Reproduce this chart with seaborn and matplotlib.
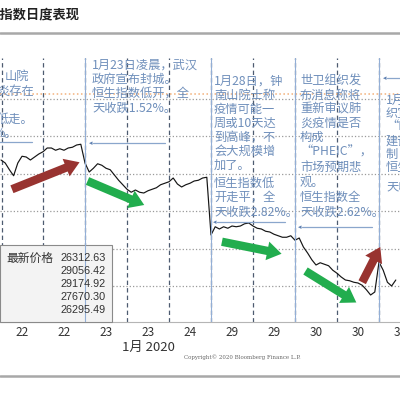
import numpy as np
import pandas as pd
import matplotlib
matplotlib.use("Agg")
import matplotlib.pyplot as plt
from matplotlib.lines import Line2D
from matplotlib.patches import Rectangle
import seaborn as sns

# trading sessions (morning / afternoon) and their labels
session_labels = ["22", "22", "23", "23", "24", "29", "29", "30", "30", "31"]

# intraday prices, ~10 readings per session
s0 = [28180, 28140, 28050, 27970, 28140, 28230, 28220, 28180, 28220, 28260]
s1 = [28290, 28340, 28340, 28310, 28330, 28310, 28340, 28350, 28380, 28390]
s2 = [28140, 28020, 28070, 28130, 28110, 28070, 28050, 27980, 27910, 27850]
s3 = [27790, 27750, 27780, 27750, 27740, 27770, 27790, 27810, 27850, 27870]
s4 = [27890, 27940, 27860, 27820, 27850, 27870, 27900, 27910, 27940, 27950]
s5 = [27180, 27290, 27260, 27290, 27270, 27300, 27290, 27300, 27330, 27340]
s6 = [27300, 27270, 27260, 27230, 27220, 27190, 27170, 27150, 27150, 27170]
s7 = [27110, 27140, 27020, 26940, 26850, 26780, 26810, 26790, 26770, 26710]
s8 = [26670, 26620, 26580, 26570, 26550, 26540, 26510, 26450, 26380, 26420]
s9 = [26820, 26710, 26550, 26500, 26580]
sessions = [s0, s1, s2, s3, s4, s5, s6, s7, s8, s9]

grid_levels = [26500, 27000, 27500, 28000, 28500, 29000]
event_sessions = [2, 5, 7, 9]  # Jan 23, Jan 29, Jan 30, Jan 31 opens

legend_title = "最新价格"
legend_values = ["26312.63", "29056.42", "29174.92", "27670.30", "26295.49"]

# big trend arrows: (x0, y0, x1, y1, colour)
RED = "#983330"
GREEN = "#22ad4e"
trend_arrows = [
    (0.26, 27790, 1.87, 28150, RED),
    (2.06, 27900, 3.41, 27580, GREEN),
    (5.26, 27090, 6.68, 26930, GREEN),
    (7.25, 26700, 8.46, 26280, GREEN),
    (8.60, 26550, 9.03, 27020, RED),
]

rows = []
for i, vals in enumerate(sessions):
    for k, v in enumerate(vals):
        rows.append({"x": i + k / 10, "price": v})
df = pd.DataFrame(rows)

sns.set_theme(style="white")
plt.rcParams["font.family"] = ["Noto Sans CJK SC", "DejaVu Sans"]

fig = plt.figure(figsize=(4, 4), dpi=100)
ax = fig.add_axes([0, 0.195, 1, 0.66])

def fp(px, py):
    return px / 400, 1 - py / 400

# session grid
for b in range(10):
    ax.axvline(b + 0.03 if b == 0 else b, color="#4d5b70", ls=(0, (3.5, 2.5)), lw=0.9, zorder=1)
ax.axhline(float(legend_values[1]), color="#f2b07a", ls=":", lw=1.1, zorder=1)
ax.set_yticks(grid_levels)
ax.grid(axis="y", color="#9a9a9a", ls=":", lw=0.9)
ax.grid(axis="x", visible=False)

sns.lineplot(data=df, x="x", y="price", ax=ax, color="#151515", lw=0.85,
             estimator=None, sort=False, zorder=2)

ax.add_patch(Rectangle((0, 0), 0.28, 0.292, transform=ax.transAxes,
                       fc="#f3f3f3", ec="#8a8a8a", lw=0.8, zorder=3, clip_on=False))
for e in event_sessions:
    ax.axvline(e, color="#93afd6", lw=0.8, zorder=4)

for x0, y0, x1, y1, c in trend_arrows:
    ax.annotate("", xy=(x1, y1), xytext=(x0, y0),
                arrowprops=dict(arrowstyle="simple,head_width=1.7,head_length=1.3,tail_width=0.75",
                                mutation_scale=8, fc=c, ec="none", shrinkA=0, shrinkB=0),
                zorder=5)

ax.set_xlim(-0.024, 9.455)
ax.set_ylim(26020, 29540)
ax.set_xticks([i + 0.5 for i in range(10)])
ax.set_xticklabels(session_labels, fontsize=8.5, color="#333333")
ax.set_yticklabels([])
ax.tick_params(length=0, pad=3)
ax.set_xlabel("")
ax.set_ylabel("")
for side in ["top", "left", "right"]:
    ax.spines[side].set_visible(False)
ax.spines["bottom"].set_color("#b5b5b5")
ax.spines["bottom"].set_linewidth(0.8)

# annotation text blocks
TXT = "#6f8fbb"
blocks = [
    (5, [76], ["山院"]),
    (92, [65, 79, 93, 108], ["1月23日凌晨，武汉", "政府宣布封城。", "恒生指数低开，全", "天收跌1.52%。"]),
    (214, [81, 95, 109, 123, 137, 151, 165, 183, 197, 212],
     ["1月28日，钟", "南山院士称", "疫情可能一", "周或10天达", "到高峰，不", "会大规模增",
      "加了。", "恒生指数低", "开走平，全", "天收跌2.82%。"]),
    (300, [81, 95, 109, 123, 137, 152, 167, 182, 197, 212],
     ["世卫组织发", "布消息称将", "重新审议肺", "炎疫情是否", "构成", "“PHEIC”，",
      "市场预期悲", "观。", "恒生指数全", "天收跌2.62%。"]),
    (386, [100, 113, 126, 141, 155, 168, 187],
     ["1月31日，世卫", "织宣布", "“PHEIC”", "建议", "制", "恒生", "天收跌"]),
]
for x, ys, lines in blocks:
    for y, s in zip(ys, lines):
        fig.text(*fp(x, y), s, fontsize=8.8, color=TXT, ha="left", va="center")
for x, y, s in [(34, 91, "炎存在"), (34, 119, "低走。"), (17, 134, "%。")]:
    fig.text(*fp(x, y), s, fontsize=8.8, color=TXT, ha="right", va="center")

# small "←" markers
for x0, x1, y in [(-10, 32, 142), (88, 165, 143), (212, 285, 222), (297, 372, 227), (382, 410, 78)]:
    fig.add_artist(Line2D([x0 / 400 + 0.012, x1 / 400], [1 - y / 400] * 2, color="#8aa6cc", lw=0.9))
    fig.text(*fp(x0 + 1, y), "◂", fontsize=5, color="#5c7fb0", ha="left", va="center",
             family=["DejaVu Sans"])

# legend contents
fig.text(*fp(6, 258), legend_title, fontsize=8.5, color="#333333", ha="left", va="center")
for i, v in enumerate(legend_values):
    fig.text(*fp(106, 258 + i * 13), v, fontsize=7.8, color="#333333", ha="right", va="center",
             family=["Liberation Sans"])

fig.text(*fp(148, 347), "1月 2020", fontsize=9.5, color="#333333", ha="center", va="center")
fig.text(*fp(242, 357), "Copyright© 2020 Bloomberg Finance L.P.", fontsize=4,
         color="#666666", ha="center", va="center", family=["DejaVu Serif"])

# page title and separators
fig.text(*fp(80, 14), "恒生指数日度表现", fontsize=9.5, weight="bold", color="#222222",
         ha="right", va="center")
for y in [33, 376]:
    fig.add_artist(Line2D([0, 1], [1 - y / 400] * 2, color="#a8a8a8", lw=1.8))

fig.savefig("out.png", dpi=100, facecolor="white")
